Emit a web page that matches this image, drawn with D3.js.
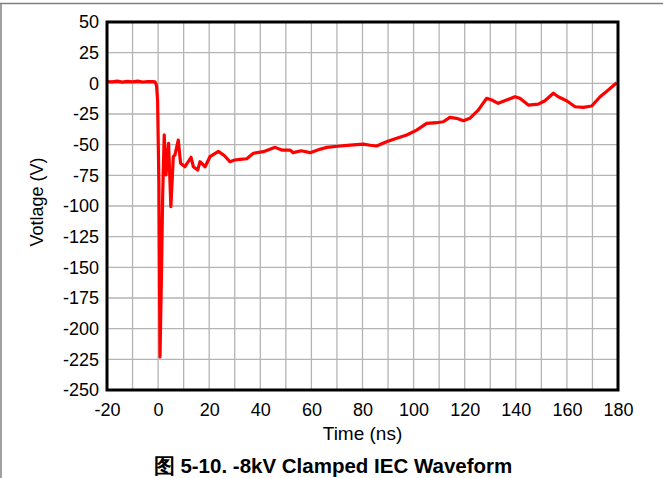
<!DOCTYPE html>
<html><head><meta charset="utf-8">
<script src="https://cdn.jsdelivr.net/npm/d3@7"></script>
<style>
html,body{margin:0;padding:0;background:#fff;}
svg{display:block;}
text{font-family:"Liberation Sans",Arial,sans-serif;fill:#000;}
</style></head>
<body>
<svg id="c" width="663" height="478"></svg>
<script>
const xTicks = [-20,0,20,40,60,80,100,120,140,160,180];
const yTicks = [50,25,0,-25,-50,-75,-100,-125,-150,-175,-200,-225,-250];
const xGrid = d3.range(-20,181,10);
const timeNs = [-20,-18,-16,-14,-12,-10,-8,-6,-4,-2,-1.2,-0.6,-0.2,0.3,0.74,1.3,1.8,2.4,3.1,4.1,5.0,5.95,6.6,7.9,8.8,10.5,12.9,13.8,15.5,16.4,18.4,20.3,23.6,26,28.1,30,32.1,34.7,37.3,41.2,45.8,48.4,51.6,52.9,56,59.5,63,66,71.2,75.1,80.3,83,85.5,89.4,93.4,97.3,101.2,105.1,109,111.6,114.2,116.8,119.5,122,124,125.3,128.6,130.6,133.1,136.4,139.7,141.6,144.9,148.8,151.4,154.7,156.6,159.9,163.2,166.4,169.7,173,176.2,179.5];
const voltage = [1.5,1.2,1.8,1.0,1.6,1.2,1.8,1.1,1.5,1.4,1.3,-2,-14,-80,-223,-158,-90,-42,-74.7,-48.9,-100.5,-59.8,-58.4,-46.2,-65.2,-68,-60.3,-68,-70.7,-63.9,-68,-59.8,-55.5,-59,-63.9,-62.5,-62,-61.5,-57,-55.7,-52.2,-54.4,-54.4,-56.5,-55,-56.5,-54,-52.2,-51.1,-50.3,-49.5,-50.5,-51.1,-47.6,-44.8,-42.1,-38.1,-32.6,-32.1,-31.3,-27.7,-28.5,-30.5,-28.5,-24.5,-21.8,-12.2,-13.6,-16.3,-13.6,-10.9,-12.2,-17.7,-16.9,-14.2,-8.1,-10.9,-14.2,-19.1,-19.6,-18.5,-10.9,-5.5,0.5];

const svg = d3.select("#c");
const L=107, R=618, T=22, B=390;
const x = d3.scaleLinear().domain([-20,180]).range([L,R]);
const y = d3.scaleLinear().domain([-250,50]).range([B,T]);

// figure border lines
svg.append("line").attr("x1",0).attr("x2",663).attr("y1",3.5).attr("y2",3.5).attr("stroke","#808080").attr("stroke-width",1.5);
svg.append("line").attr("x1",1).attr("x2",1).attr("y1",3).attr("y2",478).attr("stroke","#808080").attr("stroke-width",1.5);

// grid
svg.append("g").selectAll("line").data(xGrid).join("line")
  .attr("x1",d=>x(d)).attr("x2",d=>x(d)).attr("y1",T).attr("y2",B)
  .attr("stroke","#b4b4b4").attr("stroke-width",1.3);
svg.append("g").selectAll("line").data(yTicks).join("line")
  .attr("x1",L).attr("x2",R).attr("y1",d=>y(d)).attr("y2",d=>y(d))
  .attr("stroke","#b4b4b4").attr("stroke-width",1.3);

// axes (labels only)
const fmt = d => String(d);
const xa = svg.append("g").attr("transform",`translate(0,${B})`)
  .call(d3.axisBottom(x).tickValues(xTicks).tickSize(0).tickPadding(13).tickFormat(fmt));
xa.select(".domain").remove();
xa.selectAll("text").style("font-size","18px");
const ya = svg.append("g").attr("transform",`translate(${L},0)`)
  .call(d3.axisLeft(y).tickValues(yTicks).tickSize(0).tickPadding(8).tickFormat(fmt));
ya.select(".domain").remove();
ya.selectAll("text").style("font-size","18px");

// line
const line = d3.line().x((d,i)=>x(timeNs[i])).y(d=>y(d)).curve(d3.curveLinear);
svg.append("path").datum(voltage).attr("d",line)
  .attr("fill","none").attr("stroke","#ff0000").attr("stroke-width",3.2).attr("stroke-linejoin","round");

// frame
svg.append("rect").attr("x",L).attr("y",T).attr("width",R-L).attr("height",B-T)
  .attr("fill","none").attr("stroke","#000").attr("stroke-width",3);

// axis titles
svg.append("text").attr("x",(L+R)/2).attr("y",440).attr("text-anchor","middle").style("font-size","19px").text("Time (ns)");
svg.append("text").attr("transform",`translate(43,${(T+B)/2-4}) rotate(-90)`).attr("text-anchor","middle").style("font-size","18px").text("Votlage (V)");
svg.append("text").attr("x",333).attr("y",473).attr("text-anchor","middle").style("font-size","20.5px").style("font-weight","bold").text("图 5-10. -8kV Clamped IEC Waveform");
</script>
</body></html>
